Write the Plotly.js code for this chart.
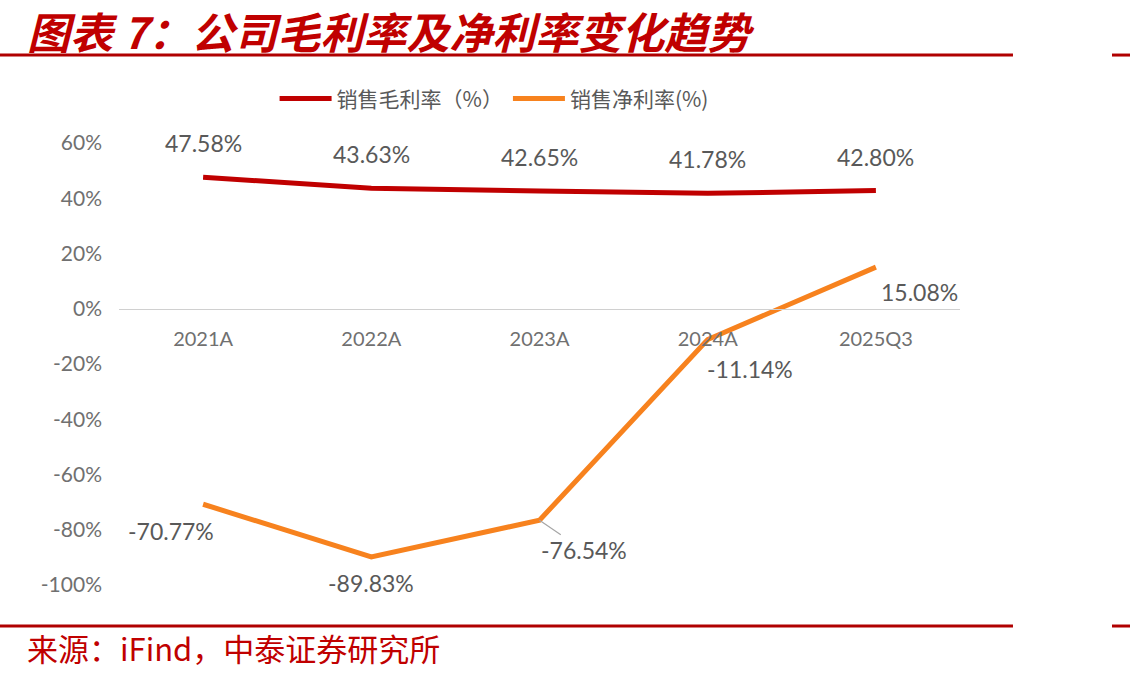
<!DOCTYPE html>
<html>
<head>
<meta charset="utf-8">
<script src="https://cdn.plot.ly/plotly-3.0.1.min.js"></script>
<style>
  html, body { margin: 0; padding: 0; background: #fff; }
  #chart { width: 1130px; height: 679px; }
</style>
</head>
<body>
<div id="chart"></div>
<script>
// Periods and margin series (%)
const periods = ['2021A', '2022A', '2023A', '2024A', '2025Q3'];
const grossMargin = [47.58, 43.63, 42.65, 41.78, 42.80];
const netMargin = [-70.77, -89.83, -76.54, -11.14, 15.08];
const yTicks = [60, 40, 20, 0, -20, -40, -60, -80, -100];

const grossName = '销售毛利率（%）';
const netName = '销售净利率(%)';
const titleText = '图表 7：公司毛利率及净利率变化趋势';
const sourceText = '来源：iFind，中泰证券研究所';

// Label offsets (pixels) for the net margin values
const netShiftX = [-32, 0, 44, 42, 44];
const netShiftY = [-27, -26, -30, -29, -25];

const RED = '#C00000';
const ORANGE = '#F7821E';
const LABEL = '#595959';
const numFont = { family: 'Lato, "Open Sans", sans-serif', size: 23, color: LABEL };

const traces = [
  { x: periods, y: grossMargin, name: grossName, type: 'scatter', mode: 'lines',
    line: { color: RED, width: 5 }, hoverinfo: 'skip' },
  { x: periods, y: netMargin, name: netName, type: 'scatter', mode: 'lines',
    line: { color: ORANGE, width: 5 }, hoverinfo: 'skip' }
];

const fmt = v => v.toFixed(2) + '%';
const annotations = [];

grossMargin.forEach((v, i) => {
  annotations.push({ x: periods[i], y: v, xref: 'x', yref: 'y', text: fmt(v),
    showarrow: false, yshift: 34, font: numFont });
});

netMargin.forEach((v, i) => {
  if (i === 2) {
    annotations.push({ x: periods[i], y: v, xref: 'x', yref: 'y', text: fmt(v),
      showarrow: true, arrowhead: 0, arrowwidth: 1.2, arrowcolor: '#A6A6A6',
      ax: netShiftX[i], ay: -netShiftY[i], standoff: 0, font: numFont });
  } else {
    annotations.push({ x: periods[i], y: v, xref: 'x', yref: 'y', text: fmt(v),
      showarrow: false, xshift: netShiftX[i], yshift: netShiftY[i], font: numFont });
  }
});

// Heading and source line
annotations.push({ xref: 'paper', yref: 'paper', x: -0.1118, y: 1.2557,
  xanchor: 'left', yanchor: 'middle', showarrow: false, text: titleText,
  font: { family: '"Noto Sans CJK SC", sans-serif', size: 43, color: '#C00000',
          weight: 'bold', style: 'italic' } });
annotations.push({ xref: 'paper', yref: 'paper', x: -0.1118, y: -0.1425,
  xanchor: 'left', yanchor: 'middle', showarrow: false, text: sourceText,
  font: { family: '"Noto Sans CJK SC", sans-serif', size: 31, color: '#C00000' } });

const rule = (x0, x1, y) => ({ type: 'line', xref: 'paper', yref: 'paper',
  x0: x0, x1: x1, y0: y, y1: y, line: { color: '#B00000', width: 3 } });

const shapes = [
  rule(-0.1415, 1.063, 1.199), rule(1.1807, 1.21, 1.199),
  rule(-0.1415, 1.063, -0.0928), rule(1.1807, 1.21, -0.0928)
];

const layout = {
  width: 1130, height: 679,
  margin: { l: 119, r: 170, t: 143, b: 94 },
  paper_bgcolor: '#fff', plot_bgcolor: '#fff',
  showlegend: true,
  legend: { orientation: 'h', x: 0.185, y: 1.10, xanchor: 'left', yanchor: 'middle',
    itemwidth: 52, traceorder: 'normal',
    font: { family: '"Noto Sans CJK SC", sans-serif', size: 21, color: '#595959' } },
  xaxis: { type: 'category', range: [-0.5, 4.5], anchor: 'free', position: 0.625,
    showline: true, linecolor: '#D0D0D0', linewidth: 1.5, showgrid: false, zeroline: false,
    ticks: '', ticklabelstandoff: 12,
    tickfont: { family: 'Lato, "Open Sans", sans-serif', size: 20, color: '#707070' } },
  yaxis: { range: [-100, 60], tickvals: yTicks, ticktext: yTicks.map(v => v + '%'),
    showgrid: false, zeroline: false, showline: false, ticks: '', ticklabelstandoff: 16,
    tickfont: { family: 'Lato, "Open Sans", sans-serif', size: 21, color: '#707070' } },
  annotations: annotations,
  shapes: shapes
};

Plotly.newPlot('chart', traces, layout, { staticPlot: true, displayModeBar: false });
</script>
</body>
</html>
